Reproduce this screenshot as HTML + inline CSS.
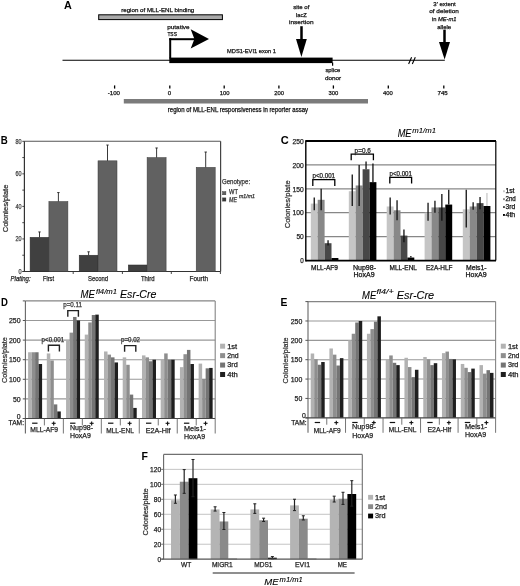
<!DOCTYPE html>
<html><head><meta charset="utf-8"><style>
html,body{margin:0;padding:0;background:#fff;}
svg{display:block;font-family:"Liberation Sans", sans-serif;will-change:transform;}
</style></head><body>
<svg width="520" height="586" viewBox="0 0 520 586">
<rect width="520" height="586" fill="#fff"/>
<text x="64.00" y="9.00" font-size="11" font-weight="bold" textLength="7.8" lengthAdjust="spacingAndGlyphs" fill="#000">A</text>
<text x="121.20" y="11.50" font-size="6.1" textLength="73.1" lengthAdjust="spacingAndGlyphs" fill="#111" stroke="#111" stroke-width="0.25">region of MLL-ENL binding</text>
<rect x="98.70" y="14.80" width="123.70" height="4.80" fill="#a9a9a9" stroke="#000" stroke-width="1.0"/>
<text x="167.20" y="29.00" font-size="6.1" textLength="22.4" lengthAdjust="spacingAndGlyphs" fill="#111" stroke="#111" stroke-width="0.25">putative</text>
<text x="167.40" y="36.40" font-size="6.1" textLength="9.5" lengthAdjust="spacingAndGlyphs" fill="#111" stroke="#111" stroke-width="0.25">TSS</text>
<line x1="170.20" y1="38.20" x2="170.20" y2="58.50" stroke="#000" stroke-width="2"/>
<line x1="169.20" y1="39.20" x2="196.00" y2="39.20" stroke="#000" stroke-width="2"/>
<polygon points="209.00,38.90 190.70,29.30 194.40,38.90 190.70,48.40" fill="#000"/>
<line x1="62.50" y1="60.30" x2="444.80" y2="60.30" stroke="#000" stroke-width="1.1"/>
<rect x="169.30" y="57.60" width="163.30" height="5.50" fill="#000"/>
<text x="227.00" y="52.80" font-size="6.1" textLength="48.9" lengthAdjust="spacingAndGlyphs" fill="#111" stroke="#111" stroke-width="0.25">MDS1-EVI1 exon 1</text>
<text x="293.20" y="8.70" font-size="6.1" textLength="16.2" lengthAdjust="spacingAndGlyphs" fill="#111" stroke="#111" stroke-width="0.25">site of</text>
<text x="296.00" y="16.60" font-size="6.1" textLength="10.9" lengthAdjust="spacingAndGlyphs" fill="#111" stroke="#111" stroke-width="0.25">lacZ</text>
<text x="289.00" y="24.30" font-size="6.1" textLength="24.5" lengthAdjust="spacingAndGlyphs" fill="#111" stroke="#111" stroke-width="0.25">insertion</text>
<line x1="301.50" y1="26.20" x2="301.50" y2="39.50" stroke="#000" stroke-width="2.5"/>
<polygon points="296.00,39.00 306.80,39.00 301.40,57.00" fill="#000"/>
<line x1="332.60" y1="62.50" x2="332.60" y2="65.80" stroke="#000" stroke-width="1.2"/>
<text x="325.40" y="72.10" font-size="6.1" textLength="15" lengthAdjust="spacingAndGlyphs" fill="#111" stroke="#111" stroke-width="0.25">splice</text>
<text x="325.00" y="79.80" font-size="6.1" textLength="16.2" lengthAdjust="spacingAndGlyphs" fill="#111" stroke="#111" stroke-width="0.25">donor</text>
<text x="433.30" y="5.80" font-size="6.1" textLength="22.5" lengthAdjust="spacingAndGlyphs" fill="#111" stroke="#111" stroke-width="0.25">3&#8242; extent</text>
<text x="429.20" y="13.10" font-size="6.1" textLength="29.6" lengthAdjust="spacingAndGlyphs" fill="#111" stroke="#111" stroke-width="0.25">of deletion</text>
<text x="431.9" y="20.8" font-size="6.1" textLength="24.6" lengthAdjust="spacingAndGlyphs" fill="#111" stroke="#111" stroke-width="0.25">in <tspan font-style="italic">ME-m1</tspan></text>
<text x="437.20" y="28.80" font-size="6.1" textLength="14" lengthAdjust="spacingAndGlyphs" fill="#111" stroke="#111" stroke-width="0.25">allele</text>
<line x1="444.50" y1="29.60" x2="444.50" y2="42.50" stroke="#000" stroke-width="2.5"/>
<polygon points="439.00,42.00 450.00,42.00 444.60,59.50" fill="#000"/>
<line x1="408.60" y1="64.00" x2="411.60" y2="57.30" stroke="#000" stroke-width="1.1"/>
<line x1="412.30" y1="64.00" x2="415.30" y2="57.30" stroke="#000" stroke-width="1.1"/>
<line x1="114.60" y1="85.40" x2="114.60" y2="88.60" stroke="#000" stroke-width="1.3"/>
<text x="107.70" y="95.20" font-size="6.2" textLength="12.3" lengthAdjust="spacingAndGlyphs" fill="#111" stroke="#111" stroke-width="0.25">-100</text>
<line x1="169.80" y1="85.40" x2="169.80" y2="88.60" stroke="#000" stroke-width="1.3"/>
<text x="167.70" y="95.20" font-size="6.2" textLength="3.4" lengthAdjust="spacingAndGlyphs" fill="#111" stroke="#111" stroke-width="0.25">0</text>
<line x1="224.20" y1="85.40" x2="224.20" y2="88.60" stroke="#000" stroke-width="1.3"/>
<text x="219.80" y="95.20" font-size="6.2" textLength="9.8" lengthAdjust="spacingAndGlyphs" fill="#111" stroke="#111" stroke-width="0.25">100</text>
<line x1="278.90" y1="85.40" x2="278.90" y2="88.60" stroke="#000" stroke-width="1.3"/>
<text x="274.20" y="95.20" font-size="6.2" textLength="9.8" lengthAdjust="spacingAndGlyphs" fill="#111" stroke="#111" stroke-width="0.25">200</text>
<line x1="333.40" y1="85.40" x2="333.40" y2="88.60" stroke="#000" stroke-width="1.3"/>
<text x="328.60" y="95.20" font-size="6.2" textLength="9.8" lengthAdjust="spacingAndGlyphs" fill="#111" stroke="#111" stroke-width="0.25">300</text>
<line x1="388.30" y1="85.40" x2="388.30" y2="88.60" stroke="#000" stroke-width="1.3"/>
<text x="383.00" y="95.20" font-size="6.2" textLength="9.8" lengthAdjust="spacingAndGlyphs" fill="#111" stroke="#111" stroke-width="0.25">400</text>
<line x1="443.80" y1="85.40" x2="443.80" y2="88.60" stroke="#000" stroke-width="1.3"/>
<text x="437.50" y="95.20" font-size="6.2" textLength="10.2" lengthAdjust="spacingAndGlyphs" fill="#111" stroke="#111" stroke-width="0.25">745</text>
<rect x="123.80" y="99.00" width="244.20" height="4.50" fill="#7b7b7b"/>
<text x="167.80" y="111.90" font-size="6.3" textLength="140.2" lengthAdjust="spacingAndGlyphs" fill="#111" stroke="#111" stroke-width="0.25">region of MLL-ENL responsiveness in reporter assay</text>
<text x="0.80" y="143.80" font-size="11.5" font-weight="bold" textLength="7.0" lengthAdjust="spacingAndGlyphs" fill="#000">B</text>
<line x1="24.40" y1="141.30" x2="220.60" y2="141.30" stroke="#555" stroke-width="1.1"/>
<line x1="220.60" y1="141.30" x2="220.60" y2="271.50" stroke="#444" stroke-width="1.2"/>
<line x1="24.40" y1="141.30" x2="24.40" y2="271.50" stroke="#333" stroke-width="1.2"/>
<line x1="22.50" y1="271.50" x2="220.60" y2="271.50" stroke="#333" stroke-width="1.2"/>
<line x1="22.30" y1="271.50" x2="24.40" y2="271.50" stroke="#333" stroke-width="0.9"/>
<line x1="22.30" y1="255.22" x2="24.40" y2="255.22" stroke="#333" stroke-width="0.9"/>
<line x1="22.30" y1="238.95" x2="24.40" y2="238.95" stroke="#333" stroke-width="0.9"/>
<line x1="22.30" y1="222.68" x2="24.40" y2="222.68" stroke="#333" stroke-width="0.9"/>
<line x1="22.30" y1="206.40" x2="24.40" y2="206.40" stroke="#333" stroke-width="0.9"/>
<line x1="22.30" y1="190.12" x2="24.40" y2="190.12" stroke="#333" stroke-width="0.9"/>
<line x1="22.30" y1="173.85" x2="24.40" y2="173.85" stroke="#333" stroke-width="0.9"/>
<line x1="22.30" y1="157.57" x2="24.40" y2="157.57" stroke="#333" stroke-width="0.9"/>
<line x1="22.30" y1="141.30" x2="24.40" y2="141.30" stroke="#333" stroke-width="0.9"/>
<text x="21.60" y="273.90" font-size="6.6" text-anchor="end" textLength="3.1" lengthAdjust="spacingAndGlyphs" fill="#444" stroke="#444" stroke-width="0.25">0</text>
<text x="21.60" y="241.35" font-size="6.6" text-anchor="end" textLength="6.1" lengthAdjust="spacingAndGlyphs" fill="#444" stroke="#444" stroke-width="0.25">20</text>
<text x="21.60" y="208.80" font-size="6.6" text-anchor="end" textLength="6.1" lengthAdjust="spacingAndGlyphs" fill="#444" stroke="#444" stroke-width="0.25">40</text>
<text x="21.60" y="176.25" font-size="6.6" text-anchor="end" textLength="6.1" lengthAdjust="spacingAndGlyphs" fill="#444" stroke="#444" stroke-width="0.25">60</text>
<text x="21.60" y="143.70" font-size="6.6" text-anchor="end" textLength="6.1" lengthAdjust="spacingAndGlyphs" fill="#444" stroke="#444" stroke-width="0.25">80</text>
<line x1="73.20" y1="271.50" x2="73.20" y2="274.00" stroke="#333" stroke-width="0.9"/>
<line x1="122.40" y1="271.50" x2="122.40" y2="274.00" stroke="#333" stroke-width="0.9"/>
<line x1="171.30" y1="271.50" x2="171.30" y2="274.00" stroke="#333" stroke-width="0.9"/>
<line x1="220.40" y1="271.50" x2="220.40" y2="274.00" stroke="#333" stroke-width="0.9"/>
<rect x="30.10" y="237.32" width="18.80" height="34.18" fill="#404040" stroke="#2a2a2a" stroke-width="0.5"/>
<line x1="39.50" y1="237.32" x2="39.50" y2="231.95" stroke="#222" stroke-width="0.9"/>
<line x1="38.30" y1="231.95" x2="40.70" y2="231.95" stroke="#222" stroke-width="0.9"/>
<rect x="48.90" y="201.52" width="19.00" height="69.98" fill="#616161" stroke="#3a3a3a" stroke-width="0.5"/>
<line x1="58.40" y1="201.52" x2="58.40" y2="192.57" stroke="#222" stroke-width="0.9"/>
<line x1="57.20" y1="192.57" x2="59.60" y2="192.57" stroke="#222" stroke-width="0.9"/>
<rect x="79.20" y="255.22" width="18.80" height="16.28" fill="#404040" stroke="#2a2a2a" stroke-width="0.5"/>
<line x1="88.60" y1="255.22" x2="88.60" y2="251.81" stroke="#222" stroke-width="0.9"/>
<line x1="87.40" y1="251.81" x2="89.80" y2="251.81" stroke="#222" stroke-width="0.9"/>
<rect x="98.00" y="160.83" width="19.00" height="110.67" fill="#616161" stroke="#3a3a3a" stroke-width="0.5"/>
<line x1="107.50" y1="160.83" x2="107.50" y2="145.04" stroke="#222" stroke-width="0.9"/>
<line x1="106.30" y1="145.04" x2="108.70" y2="145.04" stroke="#222" stroke-width="0.9"/>
<rect x="128.30" y="264.99" width="18.80" height="6.51" fill="#404040" stroke="#2a2a2a" stroke-width="0.5"/>
<rect x="147.10" y="157.57" width="19.00" height="113.93" fill="#616161" stroke="#3a3a3a" stroke-width="0.5"/>
<line x1="156.60" y1="157.57" x2="156.60" y2="147.97" stroke="#222" stroke-width="0.9"/>
<line x1="155.40" y1="147.97" x2="157.80" y2="147.97" stroke="#222" stroke-width="0.9"/>
<rect x="196.20" y="167.34" width="19.00" height="104.16" fill="#616161" stroke="#3a3a3a" stroke-width="0.5"/>
<line x1="205.70" y1="167.34" x2="205.70" y2="152.04" stroke="#222" stroke-width="0.9"/>
<line x1="204.50" y1="152.04" x2="206.90" y2="152.04" stroke="#222" stroke-width="0.9"/>
<text x="10.60" y="280.70" font-size="6.6" font-style="italic" textLength="20" lengthAdjust="spacingAndGlyphs" fill="#222" stroke="#222" stroke-width="0.25">Plating:</text>
<text x="42.90" y="280.70" font-size="6.6" textLength="11.1" lengthAdjust="spacingAndGlyphs" fill="#222" stroke="#222" stroke-width="0.25">First</text>
<text x="88.00" y="280.70" font-size="6.6" textLength="20" lengthAdjust="spacingAndGlyphs" fill="#222" stroke="#222" stroke-width="0.25">Second</text>
<text x="141.00" y="280.70" font-size="6.6" textLength="13.5" lengthAdjust="spacingAndGlyphs" fill="#222" stroke="#222" stroke-width="0.25">Third</text>
<text x="189.50" y="280.70" font-size="6.6" textLength="18.5" lengthAdjust="spacingAndGlyphs" fill="#222" stroke="#222" stroke-width="0.25">Fourth</text>
<text transform="translate(7.80,232.30) rotate(-90)" font-size="7.0" textLength="47.70" lengthAdjust="spacingAndGlyphs" fill="#333" stroke="#333" stroke-width="0.25">Colonies/plate</text>
<text x="221.90" y="184.30" font-size="6.6" textLength="28.2" lengthAdjust="spacingAndGlyphs" fill="#333" stroke="#333" stroke-width="0.25">Genotype:</text>
<rect x="222.50" y="191.60" width="3.40" height="3.20" fill="#606060" stroke="#333" stroke-width="0.4"/>
<rect x="222.50" y="197.90" width="3.40" height="3.20" fill="#3a3a3a" stroke="#222" stroke-width="0.4"/>
<text x="229.00" y="194.20" font-size="6.6" textLength="8.9" lengthAdjust="spacingAndGlyphs" fill="#333" stroke="#333" stroke-width="0.25">WT</text>
<text x="229.00" y="201.70" font-size="6.6" font-style="italic" textLength="8" lengthAdjust="spacingAndGlyphs" fill="#333" stroke="#333" stroke-width="0.25">ME</text>
<text x="239.00" y="197.90" font-size="5.0" font-style="italic" textLength="15.9" lengthAdjust="spacingAndGlyphs" fill="#333" stroke="#333" stroke-width="0.25">m1/m1</text>
<text x="280.80" y="144.00" font-size="11.8" font-weight="bold" textLength="8.0" lengthAdjust="spacingAndGlyphs" fill="#000">C</text>
<line x1="305.80" y1="236.54" x2="495.60" y2="236.54" stroke="#878787" stroke-width="1.2"/>
<line x1="305.80" y1="212.68" x2="495.60" y2="212.68" stroke="#878787" stroke-width="1.2"/>
<line x1="305.80" y1="188.82" x2="495.60" y2="188.82" stroke="#878787" stroke-width="1.2"/>
<line x1="305.80" y1="164.96" x2="495.60" y2="164.96" stroke="#878787" stroke-width="1.2"/>
<text x="303.80" y="263.10" font-size="7.5" text-anchor="end" textLength="3.5" lengthAdjust="spacingAndGlyphs" fill="#222" stroke="#222" stroke-width="0.25">0</text>
<text x="303.80" y="239.24" font-size="7.5" text-anchor="end" textLength="7.4" lengthAdjust="spacingAndGlyphs" fill="#222" stroke="#222" stroke-width="0.25">50</text>
<text x="303.80" y="215.38" font-size="7.5" text-anchor="end" textLength="11.2" lengthAdjust="spacingAndGlyphs" fill="#222" stroke="#222" stroke-width="0.25">100</text>
<text x="303.80" y="191.52" font-size="7.5" text-anchor="end" textLength="11.2" lengthAdjust="spacingAndGlyphs" fill="#222" stroke="#222" stroke-width="0.25">150</text>
<text x="303.80" y="167.66" font-size="7.5" text-anchor="end" textLength="11.2" lengthAdjust="spacingAndGlyphs" fill="#222" stroke="#222" stroke-width="0.25">200</text>
<text x="303.80" y="143.80" font-size="7.5" text-anchor="end" textLength="11.2" lengthAdjust="spacingAndGlyphs" fill="#222" stroke="#222" stroke-width="0.25">250</text>
<rect x="310.80" y="203.61" width="6.90" height="56.79" fill="#c5c5c5"/>
<rect x="317.70" y="199.80" width="6.90" height="60.60" fill="#888888"/>
<rect x="324.60" y="243.22" width="6.90" height="17.18" fill="#474747"/>
<rect x="331.50" y="258.01" width="6.90" height="2.39" fill="#000"/>
<rect x="348.80" y="191.21" width="6.90" height="69.19" fill="#c5c5c5"/>
<rect x="355.70" y="185.48" width="6.90" height="74.92" fill="#888888"/>
<rect x="362.60" y="169.25" width="6.90" height="91.15" fill="#474747"/>
<rect x="369.50" y="182.14" width="6.90" height="78.26" fill="#000"/>
<rect x="386.70" y="206.48" width="6.90" height="53.92" fill="#c5c5c5"/>
<rect x="393.60" y="210.29" width="6.90" height="50.11" fill="#888888"/>
<rect x="400.50" y="235.59" width="6.90" height="24.81" fill="#474747"/>
<rect x="407.40" y="257.54" width="6.90" height="2.86" fill="#000"/>
<rect x="424.60" y="212.68" width="6.90" height="47.72" fill="#c5c5c5"/>
<rect x="431.50" y="207.43" width="6.90" height="52.97" fill="#888888"/>
<rect x="438.40" y="207.43" width="6.90" height="52.97" fill="#474747"/>
<rect x="445.30" y="204.57" width="6.90" height="55.83" fill="#000"/>
<rect x="462.80" y="209.34" width="6.90" height="51.06" fill="#c5c5c5"/>
<rect x="469.70" y="206.48" width="6.90" height="53.92" fill="#888888"/>
<rect x="476.60" y="203.14" width="6.90" height="57.26" fill="#474747"/>
<rect x="483.50" y="206.00" width="6.90" height="54.40" fill="#000"/>
<line x1="314.25" y1="197.41" x2="314.25" y2="210.29" stroke="#111" stroke-width="1.3"/>
<line x1="321.15" y1="188.82" x2="321.15" y2="210.29" stroke="#111" stroke-width="1.3"/>
<line x1="328.05" y1="240.36" x2="328.05" y2="245.61" stroke="#111" stroke-width="1.3"/>
<line x1="352.25" y1="174.50" x2="352.25" y2="206.00" stroke="#111" stroke-width="1.3"/>
<line x1="359.15" y1="164.96" x2="359.15" y2="206.00" stroke="#111" stroke-width="1.3"/>
<line x1="366.05" y1="161.62" x2="366.05" y2="169.25" stroke="#111" stroke-width="1.3"/>
<line x1="372.95" y1="163.53" x2="372.95" y2="182.14" stroke="#111" stroke-width="1.3"/>
<line x1="390.15" y1="197.41" x2="390.15" y2="214.59" stroke="#111" stroke-width="1.3"/>
<line x1="397.05" y1="200.27" x2="397.05" y2="220.32" stroke="#111" stroke-width="1.3"/>
<line x1="403.95" y1="229.38" x2="403.95" y2="242.27" stroke="#111" stroke-width="1.3"/>
<line x1="410.85" y1="256.11" x2="410.85" y2="257.54" stroke="#111" stroke-width="1.3"/>
<line x1="428.05" y1="202.66" x2="428.05" y2="220.79" stroke="#111" stroke-width="1.3"/>
<line x1="434.95" y1="200.75" x2="434.95" y2="212.68" stroke="#111" stroke-width="1.3"/>
<line x1="441.85" y1="194.07" x2="441.85" y2="220.79" stroke="#111" stroke-width="1.3"/>
<line x1="448.75" y1="189.77" x2="448.75" y2="204.57" stroke="#111" stroke-width="1.3"/>
<line x1="466.25" y1="189.77" x2="466.25" y2="227.47" stroke="#111" stroke-width="1.3"/>
<line x1="473.15" y1="202.18" x2="473.15" y2="209.82" stroke="#111" stroke-width="1.3"/>
<line x1="480.05" y1="196.93" x2="480.05" y2="209.34" stroke="#111" stroke-width="1.3"/>
<line x1="486.95" y1="193.11" x2="486.95" y2="206.00" stroke="#c8c8c8" stroke-width="1.3"/>
<line x1="305.80" y1="141.10" x2="496.00" y2="141.10" stroke="#000" stroke-width="2"/>
<line x1="495.80" y1="141.10" x2="495.80" y2="260.40" stroke="#000" stroke-width="1.2"/>
<line x1="305.80" y1="140.20" x2="305.80" y2="261.40" stroke="#000" stroke-width="1.4"/>
<line x1="305.80" y1="260.60" x2="496.00" y2="260.60" stroke="#000" stroke-width="1.9"/>
<polyline points="312.80,186.00 312.80,179.60 334.80,179.60 334.80,186.00" fill="none" stroke="#000" stroke-width="1.3"/>
<text x="312.50" y="178.40" font-size="6.4" textLength="22.5" lengthAdjust="spacingAndGlyphs" fill="#222" stroke="#222" stroke-width="0.25">p&lt;0.001</text>
<polyline points="351.20,160.30 351.20,154.20 373.40,154.20 373.40,160.30" fill="none" stroke="#000" stroke-width="1.3"/>
<text x="354.60" y="152.60" font-size="6.4" textLength="16.2" lengthAdjust="spacingAndGlyphs" fill="#222" stroke="#222" stroke-width="0.25">p=0.6</text>
<polyline points="389.80,183.50 389.80,177.40 411.60,177.40 411.60,183.50" fill="none" stroke="#000" stroke-width="1.3"/>
<text x="389.60" y="175.80" font-size="6.4" textLength="22.3" lengthAdjust="spacingAndGlyphs" fill="#222" stroke="#222" stroke-width="0.25">p&lt;0.001</text>
<text x="397.70" y="136.60" font-size="10" font-style="italic" textLength="13.8" lengthAdjust="spacingAndGlyphs" fill="#000" stroke="#000" stroke-width="0.1">ME</text>
<text x="412.30" y="133.20" font-size="6.5" font-style="italic" textLength="23.7" lengthAdjust="spacingAndGlyphs" fill="#000" stroke="#000" stroke-width="0.1">m1/m1</text>
<text transform="translate(290.20,228.30) rotate(-90)" font-size="7.8" textLength="47.90" lengthAdjust="spacingAndGlyphs" fill="#333" stroke="#333" stroke-width="0.25">Colonies/plate</text>
<text x="311.00" y="269.60" font-size="6.8" textLength="27.0" lengthAdjust="spacingAndGlyphs" fill="#111" stroke="#111" stroke-width="0.25">MLL-AF9</text>
<text x="352.90" y="269.60" font-size="6.8" textLength="23.1" lengthAdjust="spacingAndGlyphs" fill="#111" stroke="#111" stroke-width="0.25">Nup98-</text>
<text x="353.50" y="277.10" font-size="6.8" textLength="21.1" lengthAdjust="spacingAndGlyphs" fill="#111" stroke="#111" stroke-width="0.25">HoxA9</text>
<text x="389.50" y="269.60" font-size="6.8" textLength="27.5" lengthAdjust="spacingAndGlyphs" fill="#111" stroke="#111" stroke-width="0.25">MLL-ENL</text>
<text x="426.00" y="269.60" font-size="6.8" textLength="26.5" lengthAdjust="spacingAndGlyphs" fill="#111" stroke="#111" stroke-width="0.25">E2A-HLF</text>
<text x="466.00" y="269.60" font-size="6.8" textLength="20.5" lengthAdjust="spacingAndGlyphs" fill="#111" stroke="#111" stroke-width="0.25">Meis1-</text>
<text x="465.50" y="277.10" font-size="6.8" textLength="21.1" lengthAdjust="spacingAndGlyphs" fill="#111" stroke="#111" stroke-width="0.25">HoxA9</text>
<rect x="503.00" y="190.30" width="1.90" height="1.90" fill="#c5c5c5"/>
<text x="505.50" y="193.40" font-size="6.5" textLength="9" lengthAdjust="spacingAndGlyphs" fill="#111" stroke="#111" stroke-width="0.25">1st</text>
<rect x="503.00" y="198.20" width="1.90" height="1.90" fill="#888888"/>
<text x="505.50" y="201.30" font-size="6.5" textLength="10.3" lengthAdjust="spacingAndGlyphs" fill="#111" stroke="#111" stroke-width="0.25">2nd</text>
<rect x="503.00" y="206.10" width="1.90" height="1.90" fill="#474747"/>
<text x="505.50" y="209.20" font-size="6.5" textLength="9.7" lengthAdjust="spacingAndGlyphs" fill="#111" stroke="#111" stroke-width="0.25">3rd</text>
<rect x="503.00" y="214.00" width="1.90" height="1.90" fill="#000"/>
<text x="505.50" y="217.10" font-size="6.5" textLength="9.7" lengthAdjust="spacingAndGlyphs" fill="#111" stroke="#111" stroke-width="0.25">4th</text>
<line x1="25.40" y1="398.90" x2="215.20" y2="398.90" stroke="#989898" stroke-width="1.1"/>
<line x1="25.40" y1="379.30" x2="215.20" y2="379.30" stroke="#989898" stroke-width="1.1"/>
<line x1="25.40" y1="359.70" x2="215.20" y2="359.70" stroke="#989898" stroke-width="1.1"/>
<line x1="25.40" y1="340.10" x2="215.20" y2="340.10" stroke="#989898" stroke-width="1.1"/>
<line x1="25.40" y1="320.50" x2="215.20" y2="320.50" stroke="#989898" stroke-width="1.1"/>
<rect x="28.10" y="352.25" width="3.50" height="66.25" fill="#b2b2b2"/>
<rect x="31.60" y="352.25" width="3.50" height="66.25" fill="#8e8e8e"/>
<rect x="35.10" y="352.25" width="3.50" height="66.25" fill="#747474"/>
<rect x="38.60" y="364.01" width="3.50" height="54.49" fill="#1f1f1f"/>
<rect x="46.80" y="353.43" width="3.50" height="65.07" fill="#b2b2b2"/>
<rect x="50.30" y="360.48" width="3.50" height="58.02" fill="#8e8e8e"/>
<rect x="53.80" y="404.39" width="3.50" height="14.11" fill="#747474"/>
<rect x="57.30" y="411.44" width="3.50" height="7.06" fill="#1f1f1f"/>
<rect x="66.06" y="340.88" width="3.50" height="77.62" fill="#b2b2b2"/>
<rect x="69.56" y="332.65" width="3.50" height="85.85" fill="#8e8e8e"/>
<rect x="73.06" y="316.97" width="3.50" height="101.53" fill="#747474"/>
<rect x="76.56" y="320.50" width="3.50" height="98.00" fill="#1f1f1f"/>
<rect x="84.76" y="334.61" width="3.50" height="83.89" fill="#b2b2b2"/>
<rect x="88.26" y="322.46" width="3.50" height="96.04" fill="#8e8e8e"/>
<rect x="91.76" y="315.01" width="3.50" height="103.49" fill="#747474"/>
<rect x="95.26" y="314.62" width="3.50" height="103.88" fill="#1f1f1f"/>
<rect x="104.02" y="351.47" width="3.50" height="67.03" fill="#b2b2b2"/>
<rect x="107.52" y="354.60" width="3.50" height="63.90" fill="#8e8e8e"/>
<rect x="111.02" y="357.35" width="3.50" height="61.15" fill="#747474"/>
<rect x="114.52" y="362.44" width="3.50" height="56.06" fill="#1f1f1f"/>
<rect x="122.72" y="357.35" width="3.50" height="61.15" fill="#b2b2b2"/>
<rect x="126.22" y="364.80" width="3.50" height="53.70" fill="#8e8e8e"/>
<rect x="129.72" y="394.59" width="3.50" height="23.91" fill="#747474"/>
<rect x="133.22" y="407.92" width="3.50" height="10.58" fill="#1f1f1f"/>
<rect x="141.98" y="355.39" width="3.50" height="63.11" fill="#b2b2b2"/>
<rect x="145.48" y="357.35" width="3.50" height="61.15" fill="#8e8e8e"/>
<rect x="148.98" y="361.27" width="3.50" height="57.23" fill="#747474"/>
<rect x="152.48" y="359.70" width="3.50" height="58.80" fill="#1f1f1f"/>
<rect x="160.68" y="359.70" width="3.50" height="58.80" fill="#b2b2b2"/>
<rect x="164.18" y="353.43" width="3.50" height="65.07" fill="#8e8e8e"/>
<rect x="167.68" y="359.70" width="3.50" height="58.80" fill="#747474"/>
<rect x="171.18" y="359.70" width="3.50" height="58.80" fill="#1f1f1f"/>
<rect x="179.94" y="367.15" width="3.50" height="51.35" fill="#b2b2b2"/>
<rect x="183.44" y="354.21" width="3.50" height="64.29" fill="#8e8e8e"/>
<rect x="186.94" y="349.90" width="3.50" height="68.60" fill="#747474"/>
<rect x="190.44" y="364.01" width="3.50" height="54.49" fill="#1f1f1f"/>
<rect x="198.64" y="363.62" width="3.50" height="54.88" fill="#b2b2b2"/>
<rect x="202.14" y="378.91" width="3.50" height="39.59" fill="#8e8e8e"/>
<rect x="205.64" y="368.32" width="3.50" height="50.18" fill="#747474"/>
<rect x="209.14" y="367.93" width="3.50" height="50.57" fill="#1f1f1f"/>
<line x1="25.40" y1="300.90" x2="215.20" y2="300.90" stroke="#858585" stroke-width="1.1"/>
<line x1="215.20" y1="300.90" x2="215.20" y2="418.50" stroke="#858585" stroke-width="1.1"/>
<line x1="25.40" y1="300.90" x2="25.40" y2="433.50" stroke="#666" stroke-width="1.1"/>
<line x1="22.80" y1="418.50" x2="215.20" y2="418.50" stroke="#444" stroke-width="1.2"/>
<line x1="22.80" y1="418.50" x2="25.40" y2="418.50" stroke="#555" stroke-width="1"/>
<text x="20.60" y="419.10" font-size="7.2" text-anchor="end" textLength="3.8" lengthAdjust="spacingAndGlyphs" fill="#222" stroke="#222" stroke-width="0.25">0</text>
<line x1="22.80" y1="398.90" x2="25.40" y2="398.90" stroke="#555" stroke-width="1"/>
<text x="20.60" y="401.50" font-size="7.2" text-anchor="end" textLength="7.7" lengthAdjust="spacingAndGlyphs" fill="#222" stroke="#222" stroke-width="0.25">50</text>
<line x1="22.80" y1="379.30" x2="25.40" y2="379.30" stroke="#555" stroke-width="1"/>
<text x="20.60" y="381.90" font-size="7.2" text-anchor="end" textLength="11.6" lengthAdjust="spacingAndGlyphs" fill="#222" stroke="#222" stroke-width="0.25">100</text>
<line x1="22.80" y1="359.70" x2="25.40" y2="359.70" stroke="#555" stroke-width="1"/>
<text x="20.60" y="362.30" font-size="7.2" text-anchor="end" textLength="11.6" lengthAdjust="spacingAndGlyphs" fill="#222" stroke="#222" stroke-width="0.25">150</text>
<line x1="22.80" y1="340.10" x2="25.40" y2="340.10" stroke="#555" stroke-width="1"/>
<text x="20.60" y="342.70" font-size="7.2" text-anchor="end" textLength="11.6" lengthAdjust="spacingAndGlyphs" fill="#222" stroke="#222" stroke-width="0.25">200</text>
<line x1="22.80" y1="320.50" x2="25.40" y2="320.50" stroke="#555" stroke-width="1"/>
<text x="20.60" y="323.10" font-size="7.2" text-anchor="end" textLength="11.6" lengthAdjust="spacingAndGlyphs" fill="#222" stroke="#222" stroke-width="0.25">250</text>
<line x1="22.80" y1="300.90" x2="25.40" y2="300.90" stroke="#555" stroke-width="1"/>
<line x1="44.38" y1="418.50" x2="44.38" y2="425.40" stroke="#666" stroke-width="0.9"/>
<line x1="63.36" y1="418.50" x2="63.36" y2="433.50" stroke="#666" stroke-width="0.9"/>
<line x1="32.10" y1="423.20" x2="37.50" y2="423.20" stroke="#111" stroke-width="1.2"/>
<line x1="51.70" y1="423.30" x2="55.70" y2="423.30" stroke="#111" stroke-width="1.1"/>
<line x1="53.70" y1="421.40" x2="53.70" y2="425.40" stroke="#111" stroke-width="1.1"/>
<line x1="82.34" y1="418.50" x2="82.34" y2="425.40" stroke="#666" stroke-width="0.9"/>
<line x1="101.32" y1="418.50" x2="101.32" y2="433.50" stroke="#666" stroke-width="0.9"/>
<line x1="70.06" y1="423.20" x2="75.46" y2="423.20" stroke="#111" stroke-width="1.2"/>
<line x1="89.66" y1="423.30" x2="93.66" y2="423.30" stroke="#111" stroke-width="1.1"/>
<line x1="91.66" y1="421.40" x2="91.66" y2="425.40" stroke="#111" stroke-width="1.1"/>
<line x1="120.30" y1="418.50" x2="120.30" y2="425.40" stroke="#666" stroke-width="0.9"/>
<line x1="139.28" y1="418.50" x2="139.28" y2="433.50" stroke="#666" stroke-width="0.9"/>
<line x1="108.02" y1="423.20" x2="113.42" y2="423.20" stroke="#111" stroke-width="1.2"/>
<line x1="127.62" y1="423.30" x2="131.62" y2="423.30" stroke="#111" stroke-width="1.1"/>
<line x1="129.62" y1="421.40" x2="129.62" y2="425.40" stroke="#111" stroke-width="1.1"/>
<line x1="158.26" y1="418.50" x2="158.26" y2="425.40" stroke="#666" stroke-width="0.9"/>
<line x1="177.24" y1="418.50" x2="177.24" y2="433.50" stroke="#666" stroke-width="0.9"/>
<line x1="145.98" y1="423.20" x2="151.38" y2="423.20" stroke="#111" stroke-width="1.2"/>
<line x1="165.58" y1="423.30" x2="169.58" y2="423.30" stroke="#111" stroke-width="1.1"/>
<line x1="167.58" y1="421.40" x2="167.58" y2="425.40" stroke="#111" stroke-width="1.1"/>
<line x1="196.22" y1="418.50" x2="196.22" y2="425.40" stroke="#666" stroke-width="0.9"/>
<line x1="215.20" y1="418.50" x2="215.20" y2="433.50" stroke="#666" stroke-width="0.9"/>
<line x1="183.94" y1="423.20" x2="189.34" y2="423.20" stroke="#111" stroke-width="1.2"/>
<line x1="203.54" y1="423.30" x2="207.54" y2="423.30" stroke="#111" stroke-width="1.1"/>
<line x1="205.54" y1="421.40" x2="205.54" y2="425.40" stroke="#111" stroke-width="1.1"/>
<text x="8.60" y="425.20" font-size="7.0" textLength="15.4" lengthAdjust="spacingAndGlyphs" fill="#222" stroke="#222" stroke-width="0.25">TAM:</text>
<text x="30.30" y="432.40" font-size="7.2" textLength="27.8" lengthAdjust="spacingAndGlyphs" fill="#222" stroke="#222" stroke-width="0.25">MLL-AF9</text>
<text x="70.00" y="430.40" font-size="7.2" textLength="23.1" lengthAdjust="spacingAndGlyphs" fill="#222" stroke="#222" stroke-width="0.25">Nup98-</text>
<text x="70.00" y="438.40" font-size="7.2" textLength="20.8" lengthAdjust="spacingAndGlyphs" fill="#222" stroke="#222" stroke-width="0.25">HoxA9</text>
<text x="106.20" y="432.80" font-size="7.2" textLength="27.6" lengthAdjust="spacingAndGlyphs" fill="#222" stroke="#222" stroke-width="0.25">MLL-ENL</text>
<text x="145.70" y="432.60" font-size="7.2" textLength="24.8" lengthAdjust="spacingAndGlyphs" fill="#222" stroke="#222" stroke-width="0.25">E2A-Hlf</text>
<text x="184.00" y="430.90" font-size="7.2" textLength="22" lengthAdjust="spacingAndGlyphs" fill="#222" stroke="#222" stroke-width="0.25">Meis1-</text>
<text x="184.00" y="438.50" font-size="7.2" textLength="21.1" lengthAdjust="spacingAndGlyphs" fill="#222" stroke="#222" stroke-width="0.25">HoxA9</text>
<text transform="translate(6.60,383.00) rotate(-90)" font-size="7.0" textLength="45.80" lengthAdjust="spacingAndGlyphs" fill="#333" stroke="#333" stroke-width="0.25">Colonies/plate</text>
<rect x="220.10" y="343.70" width="5.00" height="5.00" fill="#b2b2b2"/>
<text x="227.20" y="348.50" font-size="7.0" textLength="10" lengthAdjust="spacingAndGlyphs" fill="#222" stroke="#222" stroke-width="0.25">1st</text>
<rect x="220.10" y="353.13" width="5.00" height="5.00" fill="#8e8e8e"/>
<text x="227.20" y="357.93" font-size="7.0" textLength="11.5" lengthAdjust="spacingAndGlyphs" fill="#222" stroke="#222" stroke-width="0.25">2nd</text>
<rect x="220.10" y="362.56" width="5.00" height="5.00" fill="#747474"/>
<text x="227.20" y="367.36" font-size="7.0" textLength="10.5" lengthAdjust="spacingAndGlyphs" fill="#222" stroke="#222" stroke-width="0.25">3rd</text>
<rect x="220.10" y="371.99" width="5.00" height="5.00" fill="#1f1f1f"/>
<text x="227.20" y="376.79" font-size="7.0" textLength="10.6" lengthAdjust="spacingAndGlyphs" fill="#222" stroke="#222" stroke-width="0.25">4th</text>
<text x="0.90" y="305.80" font-size="11" font-weight="bold" textLength="6.9" lengthAdjust="spacingAndGlyphs" fill="#000">D</text>
<text x="80.60" y="298.00" font-size="10" font-style="italic" textLength="14.4" lengthAdjust="spacingAndGlyphs" fill="#000" stroke="#000" stroke-width="0.1">ME</text>
<text x="96.00" y="293.80" font-size="6.6" font-style="italic" textLength="21" lengthAdjust="spacingAndGlyphs" fill="#000" stroke="#000" stroke-width="0.1">fl4/m1</text>
<text x="120.00" y="298.00" font-size="10" font-style="italic" textLength="36.5" lengthAdjust="spacingAndGlyphs" fill="#000" stroke="#000" stroke-width="0.1">Esr-Cre</text>
<line x1="308.00" y1="398.43" x2="495.60" y2="398.43" stroke="#989898" stroke-width="1.1"/>
<line x1="308.00" y1="379.07" x2="495.60" y2="379.07" stroke="#989898" stroke-width="1.1"/>
<line x1="308.00" y1="359.70" x2="495.60" y2="359.70" stroke="#989898" stroke-width="1.1"/>
<line x1="308.00" y1="340.33" x2="495.60" y2="340.33" stroke="#989898" stroke-width="1.1"/>
<line x1="308.00" y1="320.97" x2="495.60" y2="320.97" stroke="#989898" stroke-width="1.1"/>
<rect x="310.70" y="353.50" width="3.50" height="64.30" fill="#b2b2b2"/>
<rect x="314.20" y="359.31" width="3.50" height="58.49" fill="#8e8e8e"/>
<rect x="317.70" y="364.74" width="3.50" height="53.06" fill="#747474"/>
<rect x="321.20" y="362.02" width="3.50" height="55.78" fill="#1f1f1f"/>
<rect x="329.40" y="348.47" width="3.50" height="69.33" fill="#b2b2b2"/>
<rect x="332.90" y="354.66" width="3.50" height="63.14" fill="#8e8e8e"/>
<rect x="336.40" y="365.51" width="3.50" height="52.29" fill="#747474"/>
<rect x="339.90" y="358.15" width="3.50" height="59.65" fill="#1f1f1f"/>
<rect x="348.22" y="340.33" width="3.50" height="77.47" fill="#b2b2b2"/>
<rect x="351.72" y="333.75" width="3.50" height="84.05" fill="#8e8e8e"/>
<rect x="355.22" y="322.52" width="3.50" height="95.28" fill="#747474"/>
<rect x="358.72" y="320.97" width="3.50" height="96.83" fill="#1f1f1f"/>
<rect x="366.92" y="333.75" width="3.50" height="84.05" fill="#b2b2b2"/>
<rect x="370.42" y="329.10" width="3.50" height="88.70" fill="#8e8e8e"/>
<rect x="373.92" y="321.74" width="3.50" height="96.06" fill="#747474"/>
<rect x="377.42" y="316.32" width="3.50" height="101.48" fill="#1f1f1f"/>
<rect x="385.74" y="359.31" width="3.50" height="58.49" fill="#b2b2b2"/>
<rect x="389.24" y="355.44" width="3.50" height="62.36" fill="#8e8e8e"/>
<rect x="392.74" y="362.80" width="3.50" height="55.00" fill="#747474"/>
<rect x="396.24" y="365.12" width="3.50" height="52.68" fill="#1f1f1f"/>
<rect x="404.44" y="357.76" width="3.50" height="60.04" fill="#b2b2b2"/>
<rect x="407.94" y="367.06" width="3.50" height="50.74" fill="#8e8e8e"/>
<rect x="411.44" y="377.13" width="3.50" height="40.67" fill="#747474"/>
<rect x="414.94" y="369.77" width="3.50" height="48.03" fill="#1f1f1f"/>
<rect x="423.26" y="356.99" width="3.50" height="60.81" fill="#b2b2b2"/>
<rect x="426.76" y="359.31" width="3.50" height="58.49" fill="#8e8e8e"/>
<rect x="430.26" y="365.12" width="3.50" height="52.68" fill="#747474"/>
<rect x="433.76" y="363.19" width="3.50" height="54.61" fill="#1f1f1f"/>
<rect x="441.96" y="353.12" width="3.50" height="64.68" fill="#b2b2b2"/>
<rect x="445.46" y="351.57" width="3.50" height="66.23" fill="#8e8e8e"/>
<rect x="448.96" y="358.93" width="3.50" height="58.87" fill="#747474"/>
<rect x="452.46" y="359.31" width="3.50" height="58.49" fill="#1f1f1f"/>
<rect x="460.78" y="363.96" width="3.50" height="53.84" fill="#b2b2b2"/>
<rect x="464.28" y="367.83" width="3.50" height="49.97" fill="#8e8e8e"/>
<rect x="467.78" y="372.09" width="3.50" height="45.71" fill="#747474"/>
<rect x="471.28" y="368.61" width="3.50" height="49.19" fill="#1f1f1f"/>
<rect x="479.48" y="365.12" width="3.50" height="52.68" fill="#b2b2b2"/>
<rect x="482.98" y="373.64" width="3.50" height="44.16" fill="#8e8e8e"/>
<rect x="486.48" y="370.16" width="3.50" height="47.64" fill="#747474"/>
<rect x="489.98" y="372.87" width="3.50" height="44.93" fill="#1f1f1f"/>
<line x1="308.00" y1="301.60" x2="495.60" y2="301.60" stroke="#858585" stroke-width="1.1"/>
<line x1="495.60" y1="301.60" x2="495.60" y2="417.80" stroke="#858585" stroke-width="1.1"/>
<line x1="308.00" y1="301.60" x2="308.00" y2="432.80" stroke="#666" stroke-width="1.1"/>
<line x1="305.40" y1="417.80" x2="495.60" y2="417.80" stroke="#444" stroke-width="1.2"/>
<line x1="305.40" y1="417.80" x2="308.00" y2="417.80" stroke="#555" stroke-width="1"/>
<text x="305.80" y="418.40" font-size="7.2" text-anchor="end" textLength="3.8" lengthAdjust="spacingAndGlyphs" fill="#222" stroke="#222" stroke-width="0.25">0</text>
<line x1="305.40" y1="398.43" x2="308.00" y2="398.43" stroke="#555" stroke-width="1"/>
<text x="302.30" y="401.03" font-size="7.2" text-anchor="end" textLength="7.7" lengthAdjust="spacingAndGlyphs" fill="#222" stroke="#222" stroke-width="0.25">50</text>
<line x1="305.40" y1="379.07" x2="308.00" y2="379.07" stroke="#555" stroke-width="1"/>
<text x="302.30" y="381.67" font-size="7.2" text-anchor="end" textLength="11.6" lengthAdjust="spacingAndGlyphs" fill="#222" stroke="#222" stroke-width="0.25">100</text>
<line x1="305.40" y1="359.70" x2="308.00" y2="359.70" stroke="#555" stroke-width="1"/>
<text x="302.30" y="362.30" font-size="7.2" text-anchor="end" textLength="11.6" lengthAdjust="spacingAndGlyphs" fill="#222" stroke="#222" stroke-width="0.25">150</text>
<line x1="305.40" y1="340.33" x2="308.00" y2="340.33" stroke="#555" stroke-width="1"/>
<text x="302.30" y="342.93" font-size="7.2" text-anchor="end" textLength="11.6" lengthAdjust="spacingAndGlyphs" fill="#222" stroke="#222" stroke-width="0.25">200</text>
<line x1="305.40" y1="320.97" x2="308.00" y2="320.97" stroke="#555" stroke-width="1"/>
<text x="302.30" y="323.57" font-size="7.2" text-anchor="end" textLength="11.6" lengthAdjust="spacingAndGlyphs" fill="#222" stroke="#222" stroke-width="0.25">250</text>
<line x1="305.40" y1="301.60" x2="308.00" y2="301.60" stroke="#555" stroke-width="1"/>
<line x1="326.76" y1="417.80" x2="326.76" y2="424.70" stroke="#666" stroke-width="0.9"/>
<line x1="345.52" y1="417.80" x2="345.52" y2="432.80" stroke="#666" stroke-width="0.9"/>
<line x1="314.70" y1="422.50" x2="320.10" y2="422.50" stroke="#111" stroke-width="1.2"/>
<line x1="334.30" y1="422.60" x2="338.30" y2="422.60" stroke="#111" stroke-width="1.1"/>
<line x1="336.30" y1="420.70" x2="336.30" y2="424.70" stroke="#111" stroke-width="1.1"/>
<line x1="364.28" y1="417.80" x2="364.28" y2="424.70" stroke="#666" stroke-width="0.9"/>
<line x1="383.04" y1="417.80" x2="383.04" y2="432.80" stroke="#666" stroke-width="0.9"/>
<line x1="352.22" y1="422.50" x2="357.62" y2="422.50" stroke="#111" stroke-width="1.2"/>
<line x1="371.82" y1="422.60" x2="375.82" y2="422.60" stroke="#111" stroke-width="1.1"/>
<line x1="373.82" y1="420.70" x2="373.82" y2="424.70" stroke="#111" stroke-width="1.1"/>
<line x1="401.80" y1="417.80" x2="401.80" y2="424.70" stroke="#666" stroke-width="0.9"/>
<line x1="420.56" y1="417.80" x2="420.56" y2="432.80" stroke="#666" stroke-width="0.9"/>
<line x1="389.74" y1="422.50" x2="395.14" y2="422.50" stroke="#111" stroke-width="1.2"/>
<line x1="409.34" y1="422.60" x2="413.34" y2="422.60" stroke="#111" stroke-width="1.1"/>
<line x1="411.34" y1="420.70" x2="411.34" y2="424.70" stroke="#111" stroke-width="1.1"/>
<line x1="439.32" y1="417.80" x2="439.32" y2="424.70" stroke="#666" stroke-width="0.9"/>
<line x1="458.08" y1="417.80" x2="458.08" y2="432.80" stroke="#666" stroke-width="0.9"/>
<line x1="427.26" y1="422.50" x2="432.66" y2="422.50" stroke="#111" stroke-width="1.2"/>
<line x1="446.86" y1="422.60" x2="450.86" y2="422.60" stroke="#111" stroke-width="1.1"/>
<line x1="448.86" y1="420.70" x2="448.86" y2="424.70" stroke="#111" stroke-width="1.1"/>
<line x1="476.84" y1="417.80" x2="476.84" y2="424.70" stroke="#666" stroke-width="0.9"/>
<line x1="495.60" y1="417.80" x2="495.60" y2="432.80" stroke="#666" stroke-width="0.9"/>
<line x1="464.78" y1="422.50" x2="470.18" y2="422.50" stroke="#111" stroke-width="1.2"/>
<line x1="484.38" y1="422.60" x2="488.38" y2="422.60" stroke="#111" stroke-width="1.1"/>
<line x1="486.38" y1="420.70" x2="486.38" y2="424.70" stroke="#111" stroke-width="1.1"/>
<text x="291.20" y="424.50" font-size="7.0" textLength="15.4" lengthAdjust="spacingAndGlyphs" fill="#222" stroke="#222" stroke-width="0.25">TAM:</text>
<text x="313.75" y="432.60" font-size="7.2" textLength="27" lengthAdjust="spacingAndGlyphs" fill="#222" stroke="#222" stroke-width="0.25">MLL-AF9</text>
<text x="352.00" y="429.40" font-size="7.2" textLength="24" lengthAdjust="spacingAndGlyphs" fill="#222" stroke="#222" stroke-width="0.25">Nup98-</text>
<text x="352.20" y="438.40" font-size="7.2" textLength="21" lengthAdjust="spacingAndGlyphs" fill="#222" stroke="#222" stroke-width="0.25">HoxA9</text>
<text x="388.75" y="432.20" font-size="7.2" textLength="27.5" lengthAdjust="spacingAndGlyphs" fill="#222" stroke="#222" stroke-width="0.25">MLL-ENL</text>
<text x="427.50" y="432.20" font-size="7.2" textLength="23.75" lengthAdjust="spacingAndGlyphs" fill="#222" stroke="#222" stroke-width="0.25">E2A-Hlf</text>
<text x="465.00" y="428.90" font-size="7.2" textLength="22" lengthAdjust="spacingAndGlyphs" fill="#222" stroke="#222" stroke-width="0.25">Meis1-</text>
<text x="465.00" y="437.20" font-size="7.2" textLength="21.25" lengthAdjust="spacingAndGlyphs" fill="#222" stroke="#222" stroke-width="0.25">HoxA9</text>
<text transform="translate(287.50,383.40) rotate(-90)" font-size="7.0" textLength="46.00" lengthAdjust="spacingAndGlyphs" fill="#333" stroke="#333" stroke-width="0.25">Colonies/plate</text>
<rect x="500.80" y="343.70" width="5.00" height="5.00" fill="#b2b2b2"/>
<text x="507.90" y="348.50" font-size="7.0" textLength="10" lengthAdjust="spacingAndGlyphs" fill="#222" stroke="#222" stroke-width="0.25">1st</text>
<rect x="500.80" y="353.13" width="5.00" height="5.00" fill="#8e8e8e"/>
<text x="507.90" y="357.93" font-size="7.0" textLength="11.5" lengthAdjust="spacingAndGlyphs" fill="#222" stroke="#222" stroke-width="0.25">2nd</text>
<rect x="500.80" y="362.56" width="5.00" height="5.00" fill="#747474"/>
<text x="507.90" y="367.36" font-size="7.0" textLength="10.5" lengthAdjust="spacingAndGlyphs" fill="#222" stroke="#222" stroke-width="0.25">3rd</text>
<rect x="500.80" y="371.99" width="5.00" height="5.00" fill="#1f1f1f"/>
<text x="507.90" y="376.79" font-size="7.0" textLength="10.6" lengthAdjust="spacingAndGlyphs" fill="#222" stroke="#222" stroke-width="0.25">4th</text>
<text x="280.40" y="306.10" font-size="11" font-weight="bold" textLength="6.9" lengthAdjust="spacingAndGlyphs" fill="#000">E</text>
<text x="362.10" y="298.80" font-size="10" font-style="italic" textLength="14.1" lengthAdjust="spacingAndGlyphs" fill="#000" stroke="#000" stroke-width="0.1">ME</text>
<text x="376.50" y="294.20" font-size="6.6" font-style="italic" textLength="17.3" lengthAdjust="spacingAndGlyphs" fill="#000" stroke="#000" stroke-width="0.1">fl4/+</text>
<text x="396.70" y="298.80" font-size="10" font-style="italic" textLength="37.5" lengthAdjust="spacingAndGlyphs" fill="#000" stroke="#000" stroke-width="0.1">Esr-Cre</text>
<polyline points="48.40,351.40 48.40,345.20 59.40,345.20 59.40,351.40" fill="none" stroke="#222" stroke-width="1.4"/>
<text x="41.60" y="341.70" font-size="6.8" textLength="22.5" lengthAdjust="spacingAndGlyphs" fill="#333" stroke="#333" stroke-width="0.25">p&lt;0.001</text>
<polyline points="67.80,316.80 67.80,310.60 78.40,310.60 78.40,316.80" fill="none" stroke="#222" stroke-width="1.4"/>
<text x="63.30" y="307.40" font-size="6.8" textLength="18.7" lengthAdjust="spacingAndGlyphs" fill="#333" stroke="#333" stroke-width="0.25">p=0.11</text>
<polyline points="124.60,351.80 124.60,345.60 135.80,345.60 135.80,351.80" fill="none" stroke="#222" stroke-width="1.4"/>
<text x="121.00" y="342.30" font-size="6.8" textLength="19" lengthAdjust="spacingAndGlyphs" fill="#333" stroke="#333" stroke-width="0.25">p=0.02</text>
<text x="141.60" y="459.60" font-size="10" font-weight="bold" textLength="6.4" lengthAdjust="spacingAndGlyphs" fill="#000">F</text>
<line x1="163.60" y1="544.23" x2="362.30" y2="544.23" stroke="#c4c4c4" stroke-width="1.0"/>
<line x1="163.60" y1="529.26" x2="362.30" y2="529.26" stroke="#c4c4c4" stroke-width="1.0"/>
<line x1="163.60" y1="514.29" x2="362.30" y2="514.29" stroke="#c4c4c4" stroke-width="1.0"/>
<line x1="163.60" y1="499.31" x2="362.30" y2="499.31" stroke="#c4c4c4" stroke-width="1.0"/>
<line x1="163.60" y1="484.34" x2="362.30" y2="484.34" stroke="#c4c4c4" stroke-width="1.0"/>
<line x1="163.60" y1="469.37" x2="362.30" y2="469.37" stroke="#c4c4c4" stroke-width="1.0"/>
<rect x="171.00" y="500.21" width="8.80" height="58.99" fill="#b4b4b4"/>
<rect x="179.80" y="481.72" width="8.80" height="77.48" fill="#8a8a8a"/>
<rect x="188.60" y="478.20" width="8.80" height="81.00" fill="#000"/>
<rect x="210.70" y="509.42" width="8.80" height="49.78" fill="#b4b4b4"/>
<rect x="219.50" y="521.47" width="8.80" height="37.73" fill="#8a8a8a"/>
<rect x="228.30" y="558.75" width="8.80" height="0.45" fill="#000"/>
<rect x="250.40" y="509.42" width="8.80" height="49.78" fill="#b4b4b4"/>
<rect x="259.20" y="520.27" width="8.80" height="38.93" fill="#8a8a8a"/>
<rect x="268.00" y="557.70" width="8.80" height="1.50" fill="#000"/>
<rect x="290.10" y="505.38" width="8.80" height="53.82" fill="#b4b4b4"/>
<rect x="298.90" y="518.70" width="8.80" height="40.50" fill="#8a8a8a"/>
<rect x="307.70" y="558.75" width="8.80" height="0.45" fill="#000"/>
<rect x="329.80" y="499.69" width="8.80" height="59.51" fill="#b4b4b4"/>
<rect x="338.60" y="498.79" width="8.80" height="60.41" fill="#8a8a8a"/>
<rect x="347.40" y="494.00" width="8.80" height="65.20" fill="#000"/>
<line x1="175.40" y1="494.97" x2="175.40" y2="503.28" stroke="#222" stroke-width="1.2"/>
<line x1="173.90" y1="494.97" x2="176.90" y2="494.97" stroke="#222" stroke-width="1.0"/>
<line x1="173.90" y1="503.28" x2="176.90" y2="503.28" stroke="#222" stroke-width="1.0"/>
<line x1="184.20" y1="469.60" x2="184.20" y2="493.33" stroke="#222" stroke-width="1.2"/>
<line x1="182.70" y1="469.60" x2="185.70" y2="469.60" stroke="#222" stroke-width="1.0"/>
<line x1="182.70" y1="493.33" x2="185.70" y2="493.33" stroke="#222" stroke-width="1.0"/>
<line x1="193.00" y1="459.49" x2="193.00" y2="496.69" stroke="#222" stroke-width="1.2"/>
<line x1="191.50" y1="459.49" x2="194.50" y2="459.49" stroke="#222" stroke-width="1.0"/>
<line x1="191.50" y1="496.69" x2="194.50" y2="496.69" stroke="#222" stroke-width="1.0"/>
<line x1="215.10" y1="506.80" x2="215.10" y2="511.07" stroke="#222" stroke-width="1.2"/>
<line x1="213.60" y1="506.80" x2="216.60" y2="506.80" stroke="#222" stroke-width="1.0"/>
<line x1="213.60" y1="511.07" x2="216.60" y2="511.07" stroke="#222" stroke-width="1.0"/>
<line x1="223.90" y1="512.49" x2="223.90" y2="529.48" stroke="#222" stroke-width="1.2"/>
<line x1="222.40" y1="512.49" x2="225.40" y2="512.49" stroke="#222" stroke-width="1.0"/>
<line x1="222.40" y1="529.48" x2="225.40" y2="529.48" stroke="#222" stroke-width="1.0"/>
<line x1="254.80" y1="503.81" x2="254.80" y2="513.39" stroke="#222" stroke-width="1.2"/>
<line x1="253.30" y1="503.81" x2="256.30" y2="503.81" stroke="#222" stroke-width="1.0"/>
<line x1="253.30" y1="513.39" x2="256.30" y2="513.39" stroke="#222" stroke-width="1.0"/>
<line x1="263.60" y1="518.18" x2="263.60" y2="521.47" stroke="#222" stroke-width="1.2"/>
<line x1="262.10" y1="518.18" x2="265.10" y2="518.18" stroke="#222" stroke-width="1.0"/>
<line x1="262.10" y1="521.47" x2="265.10" y2="521.47" stroke="#222" stroke-width="1.0"/>
<line x1="272.40" y1="556.58" x2="272.40" y2="558.98" stroke="#222" stroke-width="1.2"/>
<line x1="270.90" y1="556.58" x2="273.90" y2="556.58" stroke="#222" stroke-width="1.0"/>
<line x1="270.90" y1="558.98" x2="273.90" y2="558.98" stroke="#222" stroke-width="1.0"/>
<line x1="294.50" y1="499.24" x2="294.50" y2="510.62" stroke="#222" stroke-width="1.2"/>
<line x1="293.00" y1="499.24" x2="296.00" y2="499.24" stroke="#222" stroke-width="1.0"/>
<line x1="293.00" y1="510.62" x2="296.00" y2="510.62" stroke="#222" stroke-width="1.0"/>
<line x1="303.30" y1="515.78" x2="303.30" y2="519.97" stroke="#222" stroke-width="1.2"/>
<line x1="301.80" y1="515.78" x2="304.80" y2="515.78" stroke="#222" stroke-width="1.0"/>
<line x1="301.80" y1="519.97" x2="304.80" y2="519.97" stroke="#222" stroke-width="1.0"/>
<line x1="334.20" y1="496.17" x2="334.20" y2="502.01" stroke="#222" stroke-width="1.2"/>
<line x1="332.70" y1="496.17" x2="335.70" y2="496.17" stroke="#222" stroke-width="1.0"/>
<line x1="332.70" y1="502.01" x2="335.70" y2="502.01" stroke="#222" stroke-width="1.0"/>
<line x1="343.00" y1="492.28" x2="343.00" y2="504.40" stroke="#222" stroke-width="1.2"/>
<line x1="341.50" y1="492.28" x2="344.50" y2="492.28" stroke="#222" stroke-width="1.0"/>
<line x1="341.50" y1="504.40" x2="344.50" y2="504.40" stroke="#222" stroke-width="1.0"/>
<line x1="351.80" y1="480.67" x2="351.80" y2="506.13" stroke="#222" stroke-width="1.2"/>
<line x1="350.30" y1="480.67" x2="353.30" y2="480.67" stroke="#222" stroke-width="1.0"/>
<line x1="350.30" y1="506.13" x2="353.30" y2="506.13" stroke="#222" stroke-width="1.0"/>
<line x1="163.60" y1="454.40" x2="362.30" y2="454.40" stroke="#707070" stroke-width="1.1"/>
<line x1="362.30" y1="454.40" x2="362.30" y2="559.20" stroke="#707070" stroke-width="1.1"/>
<line x1="163.60" y1="454.40" x2="163.60" y2="559.20" stroke="#666" stroke-width="1.1"/>
<line x1="161.20" y1="559.20" x2="362.30" y2="559.20" stroke="#555" stroke-width="1.3"/>
<line x1="161.20" y1="559.20" x2="163.60" y2="559.20" stroke="#666" stroke-width="0.9"/>
<text x="161.20" y="561.70" font-size="7.0" text-anchor="end" textLength="3.6" lengthAdjust="spacingAndGlyphs" fill="#222" stroke="#222" stroke-width="0.25">0</text>
<line x1="161.20" y1="544.23" x2="163.60" y2="544.23" stroke="#666" stroke-width="0.9"/>
<text x="161.20" y="546.73" font-size="7.0" text-anchor="end" textLength="7.4" lengthAdjust="spacingAndGlyphs" fill="#222" stroke="#222" stroke-width="0.25">20</text>
<line x1="161.20" y1="529.26" x2="163.60" y2="529.26" stroke="#666" stroke-width="0.9"/>
<text x="161.20" y="531.76" font-size="7.0" text-anchor="end" textLength="7.4" lengthAdjust="spacingAndGlyphs" fill="#222" stroke="#222" stroke-width="0.25">40</text>
<line x1="161.20" y1="514.29" x2="163.60" y2="514.29" stroke="#666" stroke-width="0.9"/>
<text x="161.20" y="516.79" font-size="7.0" text-anchor="end" textLength="7.4" lengthAdjust="spacingAndGlyphs" fill="#222" stroke="#222" stroke-width="0.25">60</text>
<line x1="161.20" y1="499.31" x2="163.60" y2="499.31" stroke="#666" stroke-width="0.9"/>
<text x="161.20" y="501.81" font-size="7.0" text-anchor="end" textLength="7.4" lengthAdjust="spacingAndGlyphs" fill="#222" stroke="#222" stroke-width="0.25">80</text>
<line x1="161.20" y1="484.34" x2="163.60" y2="484.34" stroke="#666" stroke-width="0.9"/>
<text x="161.20" y="486.84" font-size="7.0" text-anchor="end" textLength="11.2" lengthAdjust="spacingAndGlyphs" fill="#222" stroke="#222" stroke-width="0.25">100</text>
<line x1="161.20" y1="469.37" x2="163.60" y2="469.37" stroke="#666" stroke-width="0.9"/>
<text x="161.20" y="471.87" font-size="7.0" text-anchor="end" textLength="11.2" lengthAdjust="spacingAndGlyphs" fill="#222" stroke="#222" stroke-width="0.25">120</text>
<text x="180.90" y="567.30" font-size="7.0" textLength="10.3" lengthAdjust="spacingAndGlyphs" fill="#222" stroke="#222" stroke-width="0.25">WT</text>
<text x="211.90" y="567.30" font-size="7.0" textLength="20.8" lengthAdjust="spacingAndGlyphs" fill="#222" stroke="#222" stroke-width="0.25">MIGR1</text>
<text x="254.30" y="567.30" font-size="7.0" textLength="18.2" lengthAdjust="spacingAndGlyphs" fill="#222" stroke="#222" stroke-width="0.25">MDS1</text>
<text x="295.00" y="567.30" font-size="7.0" textLength="15" lengthAdjust="spacingAndGlyphs" fill="#222" stroke="#222" stroke-width="0.25">EVI1</text>
<text x="337.70" y="567.30" font-size="7.0" textLength="9.3" lengthAdjust="spacingAndGlyphs" fill="#222" stroke="#222" stroke-width="0.25">ME</text>
<line x1="212.70" y1="573.00" x2="354.60" y2="573.00" stroke="#6a6a6a" stroke-width="1.4"/>
<text x="264.20" y="585.00" font-size="9.4" font-style="italic" textLength="14.3" lengthAdjust="spacingAndGlyphs" fill="#000" stroke="#000" stroke-width="0.1">ME</text>
<text x="279.60" y="582.10" font-size="6.4" font-style="italic" textLength="23.1" lengthAdjust="spacingAndGlyphs" fill="#000" stroke="#000" stroke-width="0.1">m1/m1</text>
<text transform="translate(147.60,535.40) rotate(-90)" font-size="6.8" textLength="47.10" lengthAdjust="spacingAndGlyphs" fill="#333" stroke="#333" stroke-width="0.25">Colonies/plate</text>
<rect x="368.10" y="494.90" width="5.00" height="4.80" fill="#b4b4b4"/>
<text x="375.00" y="499.70" font-size="7.0" textLength="10" lengthAdjust="spacingAndGlyphs" fill="#222" stroke="#222" stroke-width="0.25">1st</text>
<rect x="368.10" y="504.25" width="5.00" height="4.80" fill="#8a8a8a"/>
<text x="375.00" y="509.05" font-size="7.0" textLength="11.9" lengthAdjust="spacingAndGlyphs" fill="#222" stroke="#222" stroke-width="0.25">2nd</text>
<rect x="368.10" y="513.60" width="5.00" height="4.80" fill="#000"/>
<text x="375.00" y="518.40" font-size="7.0" textLength="10.6" lengthAdjust="spacingAndGlyphs" fill="#222" stroke="#222" stroke-width="0.25">3rd</text>
</svg></body></html>
